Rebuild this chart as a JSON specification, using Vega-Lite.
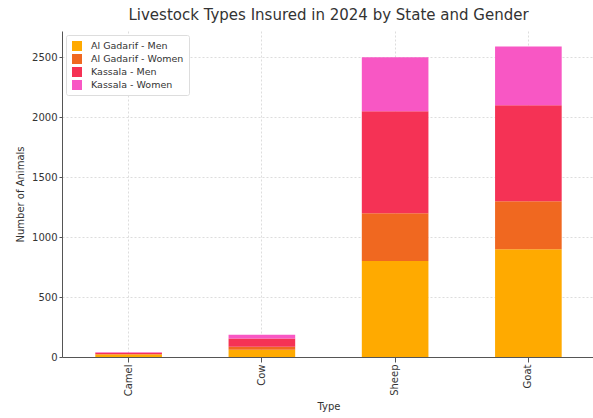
{
  "$schema": "https://vega.github.io/schema/vega-lite/v6.json",
  "autosize": "none",
  "width": 533,
  "height": 326,
  "padding": {"left": 62, "top": 31, "right": 0, "bottom": 61},
  "background": "white",
  "title": {"text": "Livestock Types Insured in 2024 by State and Gender", "fontSize": 15, "font": "DejaVu Sans", "fontWeight": "normal", "color": "#333333", "offset": 8},
  "data": {"values": [
    {"Type": "Camel", "Group": "Al Gadarif - Men", "k": 1, "Count": 20},
    {"Type": "Camel", "Group": "Al Gadarif - Women", "k": 2, "Count": 5},
    {"Type": "Camel", "Group": "Kassala - Men", "k": 3, "Count": 10},
    {"Type": "Camel", "Group": "Kassala - Women", "k": 4, "Count": 5},
    {"Type": "Cow", "Group": "Al Gadarif - Men", "k": 1, "Count": 60},
    {"Type": "Cow", "Group": "Al Gadarif - Women", "k": 2, "Count": 25},
    {"Type": "Cow", "Group": "Kassala - Men", "k": 3, "Count": 70},
    {"Type": "Cow", "Group": "Kassala - Women", "k": 4, "Count": 30},
    {"Type": "Sheep", "Group": "Al Gadarif - Men", "k": 1, "Count": 800},
    {"Type": "Sheep", "Group": "Al Gadarif - Women", "k": 2, "Count": 400},
    {"Type": "Sheep", "Group": "Kassala - Men", "k": 3, "Count": 850},
    {"Type": "Sheep", "Group": "Kassala - Women", "k": 4, "Count": 450},
    {"Type": "Goat", "Group": "Al Gadarif - Men", "k": 1, "Count": 900},
    {"Type": "Goat", "Group": "Al Gadarif - Women", "k": 2, "Count": 400},
    {"Type": "Goat", "Group": "Kassala - Men", "k": 3, "Count": 800},
    {"Type": "Goat", "Group": "Kassala - Women", "k": 4, "Count": 490}
  ]},
  "mark": {"type": "bar"},
  "encoding": {
    "x": {"field": "Type", "type": "nominal", "sort": ["Camel", "Cow", "Sheep", "Goat"],
      "scale": {"paddingInner": 0.5, "paddingOuter": 0.25},
      "axis": {"title": "Type", "labelAngle": -90, "labelFont": "DejaVu Sans", "labelFontSize": 10, "labelColor": "#333333", "titleFont": "DejaVu Sans", "titleFontSize": 10, "titleFontWeight": "normal", "titleColor": "#333333", "grid": true, "gridDash": [2, 2], "gridColor": "#dddddd", "domainColor": "#555555", "tickColor": "#555555", "titlePadding": 6}},
    "y": {"field": "Count", "type": "quantitative", "stack": "zero",
      "scale": {"domain": [0, 2720], "nice": false},
      "axis": {"title": "Number of Animals", "format": "d", "values": [0, 500, 1000, 1500, 2000, 2500], "labelFont": "DejaVu Sans", "labelFontSize": 10, "labelColor": "#333333", "titleFont": "DejaVu Sans", "titleFontSize": 10, "titleFontWeight": "normal", "titleColor": "#333333", "gridDash": [2, 2], "gridColor": "#dddddd", "domainColor": "#555555", "tickColor": "#555555", "tickSize": 3, "titlePadding": 6}},
    "color": {"field": "Group", "type": "nominal",
      "scale": {"domain": ["Al Gadarif - Men", "Al Gadarif - Women", "Kassala - Men", "Kassala - Women"], "range": ["#FFAA00", "#F06820", "#F53255", "#F857C4"]},
      "legend": {"title": null, "orient": "none", "legendX": 4, "legendY": 4, "symbolType": "square", "symbolSize": 100, "labelFont": "DejaVu Sans", "labelFontSize": 9.5, "labelColor": "#333333", "fillColor": "white", "strokeColor": "#dddddd", "padding": 5, "cornerRadius": 2, "rowPadding": 2, "labelOffset": 8}},
    "order": {"field": "k", "type": "quantitative"}
  },
  "config": {"view": {"stroke": null}}
}
